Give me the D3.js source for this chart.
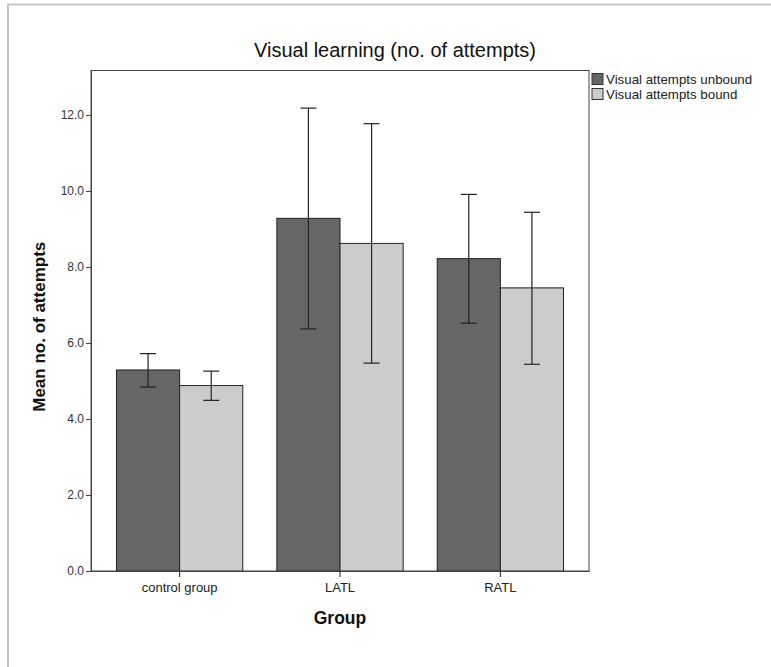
<!DOCTYPE html>
<html><head><meta charset="utf-8">
<script src="https://cdn.jsdelivr.net/npm/d3@7"></script>
<style>body{margin:0;background:#fff}svg{display:block;font-family:"Liberation Sans",Arial,sans-serif}</style>
</head><body>
<svg id="c" width="771" height="667"></svg>
<script>
const categories = ["control group", "LATL", "RATL"];
const seriesNames = ["Visual attempts unbound", "Visual attempts bound"];
const unboundMean = [5.29, 9.28, 8.22];
const unboundLow  = [4.84, 6.37, 6.52];
const unboundHigh = [5.72, 12.18, 9.91];
const boundMean = [4.88, 8.62, 7.45];
const boundLow  = [4.49, 5.47, 5.44];
const boundHigh = [5.26, 11.77, 9.44];
const yTicks = [0, 2, 4, 6, 8, 10, 12];
const colors = ["#666666", "#cccccc"];

const svg = d3.select("#c");
const m = {l: 91, r: 589, t: 70.5, b: 571};

// outer frame
svg.append("path").attr("d", "M8,667V4.5H771").attr("fill","none").attr("stroke","#c4c4c4").attr("stroke-width",2);

const x = d3.scaleBand().domain(categories).range([m.l, m.r]).paddingInner(0.2125).paddingOuter(0.159);
const xs = d3.scaleBand().domain([0,1]).range([0, x.bandwidth()]);
const y = d3.scaleLinear().domain([0, 13.17]).range([m.b, m.t]);

const data = [];
categories.forEach((c,i)=>{
  data.push({c, s:0, v:unboundMean[i], lo:unboundLow[i], hi:unboundHigh[i]});
  data.push({c, s:1, v:boundMean[i], lo:boundLow[i], hi:boundHigh[i]});
});

// plot frame
svg.append("rect").attr("x", m.l).attr("y", m.t).attr("width", m.r-m.l).attr("height", m.b-m.t)
  .attr("fill","none").attr("stroke","#444").attr("stroke-width",1);

svg.selectAll("rect.bar").data(data).join("rect").attr("class","bar")
  .attr("x", d=>x(d.c)+xs(d.s)).attr("width", xs.bandwidth())
  .attr("y", d=>y(d.v)).attr("height", d=>y(0)-y(d.v))
  .attr("fill", d=>colors[d.s]).attr("stroke","#222").attr("stroke-width",1);

// error bars
const eb = svg.append("g").attr("stroke","#222").attr("stroke-width",1.2).attr("fill","none");
data.forEach(d=>{
  const cx = x(d.c)+xs(d.s)+xs.bandwidth()/2;
  eb.append("line").attr("x1",cx).attr("x2",cx).attr("y1",y(d.lo)).attr("y2",y(d.hi));
  [d.lo,d.hi].forEach(v=>eb.append("line").attr("x1",cx-8).attr("x2",cx+8).attr("y1",y(v)).attr("y2",y(v)));
});

// y axis
const ya = svg.append("g").attr("transform",`translate(${m.l},0)`)
  .call(d3.axisLeft(y).tickValues(yTicks).tickFormat(d3.format(".1f")).tickSize(5).tickSizeOuter(0));
ya.select(".domain").attr("stroke","#444");
ya.selectAll(".tick line").attr("stroke","#444");
ya.selectAll("text").attr("font-size",12).attr("fill","#333").attr("font-family","Liberation Sans, Arial, sans-serif").attr("dx",1);

// x axis
const xa = svg.append("g").attr("transform",`translate(0,${m.b})`)
  .call(d3.axisBottom(x).tickSize(6).tickSizeOuter(0));
xa.select(".domain").attr("stroke","#444");
xa.selectAll(".tick line").attr("stroke","#222");
xa.selectAll("text").attr("font-size",13).attr("fill","#222").attr("font-family","Liberation Sans, Arial, sans-serif").attr("dy","0.95em");

// titles
svg.append("text").attr("x",395).attr("y",57).attr("text-anchor","middle").attr("font-size",20).attr("fill","#111")
  .text("Visual learning (no. of attempts)");
svg.append("text").attr("x",(m.l+m.r)/2).attr("y",624).attr("text-anchor","middle").attr("font-size",17.5).attr("font-weight","bold").attr("fill","#111")
  .text("Group");
svg.append("text").attr("transform",`translate(45,${(m.t+m.b)/2 + 6}) rotate(-90)`).attr("text-anchor","middle").attr("font-size",17).attr("font-weight","bold").attr("fill","#111")
  .text("Mean no. of attempts");

// legend
const lg = svg.append("g");
seriesNames.forEach((n,i)=>{
  lg.append("rect").attr("x",592).attr("y",73.5+i*15).attr("width",11).attr("height",11)
    .attr("fill",colors[i]).attr("stroke","#333").attr("stroke-width",1);
  lg.append("text").attr("x",606).attr("y",84+i*15).attr("font-size",13.3).attr("fill","#222").text(n);
});
</script>
</body></html>
